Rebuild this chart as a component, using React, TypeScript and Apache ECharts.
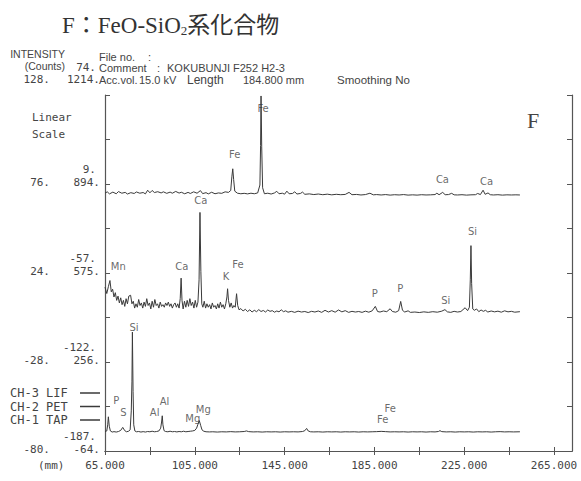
import React, { useEffect, useRef } from 'react';
import * as echarts from 'echarts';

// ---------- axis ranges & ticks ----------
const xMin = 65;
const xMax = 273;
const xTickValues = [65, 85, 105, 125, 145, 165, 185, 205, 225, 245, 265];
const xLabelValues = [65, 105, 145, 185, 225, 265];

// y tick labels (bottom -> top), three columns
const yLabelsPET = ['-80.', '-28.', '24.', '76.', '128.'];
const yLabelsTAP = ['-64.', '256.', '575.', '894.', '1214.'];
const yLabelsLIF = ['-187.', '-122.', '-57.', '9.', '74.'];

const lifRange = [-187, 74];
const petRange = [-80, 128];
const tapRange = [-64, 1214];

const channelNames = ['CH-3 LIF', 'CH-2 PET', 'CH-1 TAP'];

// ---------- spectra: [length (mm), counts] ----------
const lifSpectrum: [number, number][] = [
  [65, 2.0], [66, 3.0], [67, 1.5], [68.5, 2.8], [70, 1.6], [71, 3.2], [72.5, 2.0], [74, 2.6], [75, 1.4],
  [76.5, 2.4], [78, 1.8], [79, 2.9], [80.5, 2.0], [82, 2.5], [83, 1.5], [84, 4.2], [85, 2.3], [86, 4.0],
  [87, 2.5], [88.5, 3.1], [90, 2.2], [91, 3.0], [92.5, 1.9], [94, 2.8], [95, 2.0], [96.5, 3.3], [98, 2.1],
  [99, 2.7], [100.5, 1.6], [102, 2.6], [103, 1.8], [104.5, 3.0], [106, 2.0], [107.5, 3.9], [108.5, 1.7],
  [110, 2.4], [111, 1.5], [112.5, 2.7], [114, 1.6], [115.5, 2.2], [117, 1.9], [118.5, 3.0], [120, 2.6],
  [121, 4.0], [121.5, 14], [121.9, 19.9], [122.3, 12], [122.8, 3.5], [124, 2.0], [125.5, 1.6], [127, 1.9],
  [128.5, 1.5], [130, 2.0], [131.5, 1.6], [133, 2.2], [134, 8], [134.3, 37], [134.5, 73.3], [134.8, 36],
  [135.2, 6], [136, 1.6], [137.5, 2.0], [139, 1.4], [140.5, 2.2], [141.5, 3.4], [142.5, 1.6], [144, 2.0],
  [145, 1.3], [146, 3.5], [147, 1.6], [148.5, 1.8], [149.5, 3.0], [150.5, 1.4], [152, 1.8], [153, 2.8],
  [154, 1.2], [156, 1.5], [158, 1.0], [160, 1.4], [162, 0.9], [164, 1.3], [166, 0.8], [168, 1.2], [170, 0.9],
  [172, 1.1], [173.7, 2.6], [175, 0.9], [177, 1.1], [179, 0.7], [181, 1.0], [183, 2.0], [184.5, 0.8],
  [186, 1.0], [188, 0.7], [190, 1.0], [192, 0.6], [194, 0.9], [196, 0.7], [198, 1.0], [200, 0.6], [202, 0.8],
  [204, 0.6], [206, 0.9], [208, 0.7], [210, 0.8], [212, 1.0], [212.8, 2.0], [213.8, 0.9], [215.4, 2.6],
  [216.5, 0.9], [218, 1.0], [219.4, 1.9], [220.5, 0.8], [222, 0.7], [224, 0.9], [226, 0.6], [228, 0.8],
  [230, 0.9], [231, 1.8], [232.2, 1.0], [233.4, 4.2], [234.3, 1.2], [235.6, 2.2], [236.6, 0.9], [238, 0.7],
  [240, 0.9], [242, 0.6], [244, 0.8], [246, 0.7], [248, 0.8], [249.8, 0.7],
];

const petSpectrum: [number, number][] = [
  [65, 15.7], [65.8, 12], [66.5, 16], [67.2, 19.6], [67.8, 13], [68.4, 14.5], [69, 10], [69.6, 12.5],
  [70.2, 8], [70.8, 10.5], [71.4, 6.5], [72, 9.5], [72.6, 5.5], [73.2, 8], [73.8, 4.5], [74.4, 9], [75, 6],
  [75.6, 10.5], [76.4, 11], [77, 6], [77.6, 7.5], [78.2, 3.5], [78.8, 6], [79.4, 4], [80, 8.5], [80.6, 5],
  [81.2, 6.5], [81.8, 3.5], [82.4, 7], [83, 4.5], [83.6, 9], [84.2, 5], [84.8, 6.5], [85.4, 3], [86, 7.5],
  [86.6, 4], [87.2, 8.5], [87.8, 5], [88.4, 6], [89, 3.5], [89.6, 7], [90.2, 4.5], [90.8, 5.5], [91.4, 4],
  [92, 6.5], [92.6, 5], [93.2, 7], [93.8, 4.5], [94.4, 6], [95, 3.5], [95.6, 5.5], [96.2, 6.5], [96.8, 4],
  [97.4, 6], [98, 3.5], [98.5, 9], [98.9, 21], [99.3, 8], [99.8, 3], [100.4, 7.5], [101, 4], [101.6, 8],
  [102.2, 4.5], [102.8, 9], [103.4, 5], [104, 7], [104.6, 3.5], [105.2, 8], [105.8, 4], [106.4, 7],
  [106.9, 20], [107.3, 59.4], [107.7, 25], [108.1, 6], [108.6, 4], [109.2, 7.5], [109.8, 3.5], [110.4, 6],
  [111, 4], [111.6, 5.5], [112.2, 3], [112.8, 6.5], [113.4, 4], [114, 5], [114.6, 3], [115.2, 6], [115.8, 3.5],
  [116.4, 7], [117, 4], [117.6, 5.5], [118.2, 3], [118.8, 6], [119.3, 10], [119.6, 14.8], [120, 8], [120.6, 4],
  [121.2, 6.5], [121.8, 3.5], [122.4, 5], [123, 4], [123.6, 11.9], [124.1, 5], [124.7, 2.5], [125.5, 3.2],
  [126.5, 1.8], [127.5, 2.8], [128.5, 1.5], [129.5, 2.5], [130.5, 1.2], [131.5, 2.2], [132.5, 1.4],
  [133.5, 2.6], [134.5, 1.5], [135.5, 2.1], [136.5, 1.2], [137.5, 2.4], [138.5, 1.6], [139.5, 2.0],
  [140.5, 1.1], [141.5, 1.8], [142.5, 1.3], [143.5, 2.5], [144.5, 1.4], [145.5, 1.9], [146.5, 1.1], [148, 1.6],
  [149.5, 1.0], [151, 1.7], [152.5, 1.2], [154, 1.5], [155.5, 0.9], [157, 1.6], [158.5, 1.2], [160, 1.8],
  [161.5, 1.0], [163, 2.2], [164.5, 1.2], [166, 2.0], [167.5, 1.1], [169, 2.4], [170.5, 1.3], [172, 2.0],
  [173.5, 1.0], [175, 1.6], [176.5, 1.2], [178, 1.5], [179.5, 1.0], [181, 1.7], [182.5, 1.1], [184, 1.9],
  [185.4, 4.5], [186.4, 1.5], [187.5, 1.2], [189, 1.8], [190.5, 1.4], [192, 3.1], [193, 1.5], [194.5, 1.1],
  [195.8, 2.0], [196.7, 7.4], [197.5, 2.2], [198.5, 1.2], [200, 1.9], [201, 1.0], [203, 1.2], [205, 0.9],
  [207, 1.3], [209, 1.0], [211, 1.4], [213, 1.1], [215, 1.7], [216.4, 2.6], [217.5, 1.3], [219, 1.0],
  [220.5, 1.6], [222, 1.2], [223.5, 1.5], [225.4, 3.7], [226.5, 2.0], [227.3, 4], [227.7, 20], [228, 40],
  [228.3, 18], [228.8, 3.0], [229.5, 2.2], [230.5, 3.0], [231.5, 1.4], [232.5, 2.4], [233.5, 1.6],
  [234.5, 2.2], [235.5, 1.2], [237, 1.8], [238.5, 1.3], [240, 1.7], [241.5, 1.1], [243, 1.9], [244.5, 1.3],
  [246, 1.6], [247.5, 1.1], [249.8, 1.4],
];

const tapSpectrum: [number, number][] = [
  [65, 6], [65.8, 8], [66.2, 30], [66.5, 58.8], [66.9, 25], [67.4, 8], [68.2, 4], [69, 5.5], [70, 4], [71, 6],
  [72, 10], [72.9, 20.8], [73.8, 9], [74.6, 5], [75.5, 7], [76.2, 12], [76.7, 80], [77.0, 184], [77.2, 363],
  [77.5, 150], [77.8, 30], [78.3, 8], [79, 5], [80, 6], [81, 4], [82, 5.5], [83, 4], [84, 6], [85, 5], [86, 7],
  [87, 5], [88, 6], [89, 8], [89.8, 18], [90.2, 40], [90.5, 62.4], [90.8, 30], [91.3, 9], [92, 6], [93, 5],
  [94, 7], [95, 5], [96, 6], [97, 4.5], [98, 6], [99, 5], [100, 7], [101, 5], [102, 6], [103, 7], [104, 8],
  [105, 10], [105.8, 18], [106.4, 32], [107, 45], [107.6, 28], [108.2, 12], [109, 7], [110, 5], [111.5, 4.5],
  [113, 5], [115, 4], [117, 5], [119, 4.5], [121, 5.5], [123, 4.5], [125, 5], [127, 6], [128, 8], [129, 5.5],
  [131, 4.5], [133, 5], [135, 4], [137, 5], [139, 4.5], [141, 5], [143, 4], [145, 5], [147, 4.5], [149, 5],
  [151, 4.5], [153, 6], [154, 9], [154.8, 17], [155.5, 8], [156.5, 5], [158, 4.5], [160, 5], [162, 4],
  [164, 5], [166, 4.5], [168, 5], [170, 4], [172, 5], [174, 4.5], [176, 5], [178, 4], [180, 5], [182, 4.5],
  [184, 5], [186, 5.5], [188, 6.5], [190, 5.5], [192, 4.5], [194, 5], [196, 4.5], [198, 5], [200, 4], [202, 5],
  [204, 4.5], [206, 5], [208, 4], [210, 5], [212, 4.5], [213.5, 6], [214.2, 9], [215, 5.5], [217, 4.5],
  [219, 5], [221, 4], [223, 5], [225, 4.5], [227, 5], [229, 4], [231, 5], [233, 4.5], [235, 5], [237, 4],
  [239, 5], [241, 5.5], [243, 4.5], [245, 5], [247, 4.5], [249.8, 5],
];

// ---------- peak annotations: [element, length (mm), counts] ----------
const lifPeaks: [string, number, number][] = [
  ['Fe', 122.8, 30.4], ['Fe', 135.4, 63.8], ['Ca', 215.3, 11.9], ['Ca', 235.0, 10.4],
];
const petPeaks: [string, number, number][] = [
  ['Mn', 70.9, 27.9], ['Ca', 99.2, 27.9], ['Ca', 107.7, 66.5], ['K', 118.9, 22], ['Fe', 124.2, 29],
  ['P', 185.1, 12.3], ['P', 196.5, 15.1], ['Si', 216.8, 7.7], ['Si', 228.7, 48.5],
];
const tapPeaks: [string, number, number][] = [
  ['Si', 77.9, 378], ['P', 70.0, 117], ['S', 73.2, 74], ['Al', 87.1, 76], ['Al', 91.5, 114],
  ['Mg', 108.8, 86], ['Mg', 104.1, 52], ['Fe', 192.0, 89], ['Fe', 188.7, 50],
];

const MONO = "'DejaVu Sans Mono', monospace";
const SANS = "'DejaVu Sans', sans-serif";
const HEAD = "'Liberation Sans', sans-serif";
const INK = '#3a3a3a';
const TXT = '#444';

function labelFormatter(labels: string[]) {
  return (v: number) => {
    if (v % 2 !== 0) return '';
    const s = labels[v / 2];
    return v === 8 ? `{t|${s}}` : `{n|${s}}`;
  };
}

function headText(x: number, y: number, text: string, font: string, align: string = 'left') {
  return {
    type: 'text',
    x,
    y,
    silent: true,
    style: {
      text,
      font,
      fill: TXT,
      align,
      textAlign: align,
      verticalAlign: 'middle',
      textVerticalAlign: 'middle',
    },
  };
}

export default function App() {
  const ref = useRef<HTMLDivElement>(null);

  useEffect(() => {
    if (!ref.current) return;
    const chart = echarts.init(ref.current, undefined, { renderer: 'svg' });

    const frameY = {
      type: 'value' as const,
      min: 0,
      max: 8,
      interval: 1,
      splitLine: { show: false },
    };
    const labelRich = (shiftN: number, shiftT: number) => ({
      n: { fontFamily: MONO, fontSize: 11, color: TXT, lineHeight: 11, padding: [0, 0, shiftN, 0] },
      t: { fontFamily: MONO, fontSize: 11, color: TXT, lineHeight: 11, padding: [0, 0, shiftT, 0] },
    });

    const peakSeries = (peaks: [string, number, number][], yIdx: number) => ({
      type: 'scatter' as const,
      xAxisIndex: 0,
      yAxisIndex: yIdx,
      silent: true,
      symbolSize: 1,
      itemStyle: { color: 'rgba(0,0,0,0)' },
      label: {
        show: true,
        position: 'inside' as const,
        formatter: '{b}',
        fontFamily: SANS,
        fontSize: 10,
        color: TXT,
        textBorderWidth: 0,
        textBorderColor: 'transparent',
      },
      data: peaks.map(([n, x, y]) => ({ name: n, value: [x, y] })),
    });

    const lineSeries = (name: string, data: [number, number][], yIdx: number) => ({
      name,
      type: 'line' as const,
      xAxisIndex: 0,
      yAxisIndex: yIdx,
      data,
      showSymbol: false,
      silent: true,
      lineStyle: { color: INK, width: 1 },
      itemStyle: { color: INK },
    });

    const f11 = `11px ${HEAD}`;

    chart.setOption({
      animation: false,
      backgroundColor: '#ffffff',
      grid: { left: 105, top: 95, right: 9, bottom: 30 },
      legend: {
        orient: 'vertical',
        left: 5,
        top: 382,
        align: 'right',
        icon: 'rect',
        itemWidth: 20,
        itemHeight: 1.5,
        itemGap: 1.5,
        data: channelNames,
        formatter: (n: string) => n + ' ',
        textStyle: { fontFamily: MONO, fontSize: 12, color: TXT, lineHeight: 12 },
        selectedMode: false,
      },
      xAxis: [
        {
          type: 'value',
          min: xMin,
          max: xMax,
          position: 'bottom',
          axisLine: { show: true, lineStyle: { color: '#555', width: 1.2 } },
          axisTick: { show: true, inside: true, length: 4, customValues: xTickValues, lineStyle: { color: '#555' } },
          axisLabel: {
            show: true,
            customValues: xLabelValues,
            formatter: (v: number) => v.toFixed(3),
            fontFamily: MONO,
            fontSize: 11,
            color: TXT,
            margin: 9,
          },
          splitLine: { show: false },
        },
        {
          type: 'value',
          min: xMin,
          max: xMax,
          position: 'top',
          axisLine: { show: true, lineStyle: { color: '#555', width: 1.2 } },
          axisTick: { show: true, inside: true, length: 4, customValues: xTickValues, lineStyle: { color: '#555' } },
          axisLabel: { show: false },
          splitLine: { show: false },
        },
      ],
      yAxis: [
        {
          ...frameY,
          position: 'left',
          axisLine: { show: true, lineStyle: { color: '#555', width: 1.2 } },
          axisTick: { show: true, inside: true, length: 5, lineStyle: { color: '#555' } },
          axisLabel: { show: true, margin: 5, formatter: labelFormatter(yLabelsTAP), rich: labelRich(4, 32) },
        },
        {
          ...frameY,
          position: 'left',
          axisLine: { show: false },
          axisTick: { show: false },
          axisLabel: { show: true, margin: 55, formatter: labelFormatter(yLabelsPET), rich: labelRich(4, 32) },
        },
        {
          ...frameY,
          position: 'left',
          axisLine: { show: false },
          axisTick: { show: false },
          axisLabel: { show: true, margin: 9, formatter: labelFormatter(yLabelsLIF), rich: labelRich(29, 56) },
        },
        {
          ...frameY,
          position: 'right',
          axisLine: { show: true, lineStyle: { color: '#555', width: 1.2 } },
          axisTick: { show: true, inside: true, length: 5, lineStyle: { color: '#555' } },
          axisLabel: { show: false },
        },
        { type: 'value', min: lifRange[0], max: lifRange[1], show: false, splitLine: { show: false } },
        { type: 'value', min: petRange[0], max: petRange[1], show: false, splitLine: { show: false } },
        { type: 'value', min: tapRange[0], max: tapRange[1], show: false, splitLine: { show: false } },
      ],
      graphic: [
        {
          type: 'text',
          x: 62,
          y: 25,
          silent: true,
          style: {
            text: '{a|F：FeO-SiO}{s|2}{a|系化合物}',
            verticalAlign: 'middle',
            textVerticalAlign: 'middle',
            rich: {
              a: { fontFamily: "'Liberation Serif', 'Noto Sans CJK JP', serif", fontSize: 23, fill: '#333', color: '#333' },
              s: { fontFamily: "'Liberation Serif', serif", fontSize: 13, fill: '#333', color: '#333', padding: [10, 0, 0, 0] },
            },
          },
        },
        headText(65, 54, 'INTENSITY', `10.5px ${HEAD}`, 'right'),
        headText(65, 65.5, '(Counts)', `10.5px ${HEAD}`, 'right'),
        headText(99, 57, 'File no.', f11),
        headText(148, 57, ':', f11),
        headText(99, 68, 'Comment', f11),
        headText(157, 68, ':', f11),
        headText(167, 68, 'KOKUBUNJI F252 H2-3', f11),
        headText(99, 80, 'Acc.vol.', f11),
        headText(139, 80, '15.0 kV', f11),
        headText(187, 80, 'Length', `12px ${HEAD}`),
        headText(243, 80, '184.800 mm', f11),
        headText(337, 80, 'Smoothing No', `11.5px ${HEAD}`),
        headText(32, 117, 'Linear', `11px ${MONO}`),
        headText(32, 134, 'Scale', `11px ${MONO}`),
        headText(38, 465, '(mm)', `11px ${MONO}`),
        headText(533, 120, 'F', `22px 'Liberation Serif', serif`, 'center'),
      ],
      series: [
        lineSeries(channelNames[0], lifSpectrum, 4),
        lineSeries(channelNames[1], petSpectrum, 5),
        lineSeries(channelNames[2], tapSpectrum, 6),
        peakSeries(lifPeaks, 4),
        peakSeries(petPeaks, 5),
        peakSeries(tapPeaks, 6),
      ],
    });

    return () => chart.dispose();
  }, []);

  return (
    <div
      ref={ref}
      style={{ position: 'absolute', left: 0, top: 0, width: 581, height: 481, background: '#fff' }}
    />
  );
}
